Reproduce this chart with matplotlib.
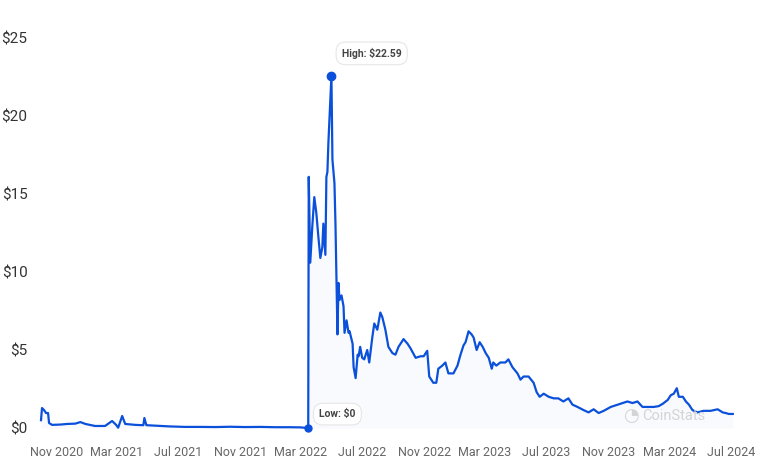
import matplotlib
matplotlib.use("Agg")
import matplotlib.pyplot as plt
import matplotlib.dates as mdates
import pandas as pd

plt.rcParams['font.family'] = ['Roboto', 'DejaVu Sans']

dates = [
    "2020-10-02", "2020-10-04", "2020-10-08", "2020-10-12", "2020-10-16", "2020-10-18",
    "2020-10-24", "2020-11-09", "2020-11-23", "2020-12-09", "2020-12-19", "2020-12-29",
    "2021-01-17", "2021-02-06", "2021-02-20", "2021-02-28", "2021-03-04", "2021-03-12",
    "2021-03-18", "2021-04-07", "2021-04-23", "2021-04-25", "2021-04-29", "2021-05-26",
    "2021-06-15", "2021-07-15", "2021-08-14", "2021-09-13", "2021-10-12", "2021-11-11",
    "2021-12-11", "2022-01-10", "2022-02-08", "2022-02-28", "2022-03-16", "2022-03-17",
    "2022-03-20", "2022-03-24", "2022-03-28", "2022-04-01", "2022-04-05", "2022-04-09",
    "2022-04-13", "2022-04-15", "2022-04-19", "2022-04-21", "2022-04-23", "2022-04-25",
    "2022-05-01", "2022-05-03", "2022-05-07", "2022-05-09", "2022-05-11", "2022-05-13",
    "2022-05-15", "2022-05-17", "2022-05-21", "2022-05-25", "2022-05-27", "2022-05-31",
    "2022-06-04", "2022-06-06", "2022-06-12", "2022-06-14", "2022-06-18", "2022-06-22",
    "2022-06-24", "2022-06-27", "2022-07-01", "2022-07-05", "2022-07-11", "2022-07-15",
    "2022-07-21", "2022-07-25", "2022-07-31", "2022-08-06", "2022-08-10", "2022-08-16",
    "2022-08-22", "2022-08-30", "2022-09-05", "2022-09-11", "2022-09-21", "2022-09-29",
    "2022-10-05", "2022-10-15", "2022-10-25", "2022-10-31", "2022-11-07", "2022-11-11",
    "2022-11-19", "2022-11-25", "2022-11-29", "2022-12-07", "2022-12-13", "2022-12-19",
    "2022-12-29", "2023-01-06", "2023-01-12", "2023-01-18", "2023-01-22", "2023-01-28",
    "2023-02-03", "2023-02-07", "2023-02-13", "2023-02-19", "2023-02-25", "2023-03-03",
    "2023-03-09", "2023-03-15", "2023-03-18", "2023-03-24", "2023-04-01", "2023-04-11",
    "2023-04-17", "2023-04-25", "2023-05-05", "2023-05-11", "2023-05-17", "2023-05-27",
    "2023-06-06", "2023-06-12", "2023-06-18", "2023-06-26", "2023-07-06", "2023-07-16",
    "2023-07-25", "2023-08-04", "2023-08-14", "2023-08-22", "2023-09-01", "2023-09-13",
    "2023-09-23", "2023-10-03", "2023-10-13", "2023-10-23", "2023-11-06", "2023-11-20",
    "2023-11-30", "2023-12-09", "2023-12-19", "2023-12-29", "2024-01-08", "2024-01-18",
    "2024-01-30", "2024-02-09", "2024-02-17", "2024-02-27", "2024-03-04", "2024-03-10",
    "2024-03-16", "2024-03-20", "2024-03-28", "2024-04-03", "2024-04-09", "2024-04-16",
    "2024-04-26", "2024-05-08", "2024-05-22", "2024-06-05", "2024-06-15", "2024-06-21",
    "2024-06-27", "2024-07-05",
]
prices = [
    0.50, 1.28, 1.15, 0.96, 0.96, 0.32,
    0.20, 0.22, 0.26, 0.28, 0.38, 0.26,
    0.13, 0.13, 0.45, 0.20, 0.02, 0.77,
    0.26, 0.20, 0.18, 0.64, 0.18, 0.13,
    0.10, 0.07, 0.07, 0.06, 0.08, 0.06,
    0.07, 0.05, 0.05, 0.04, 0.00, 16.1,
    10.6, 12.9, 14.8, 13.8, 12.3, 10.9,
    11.6, 13.1, 11.1, 16.1, 16.4, 18.3,
    22.59, 17.2, 15.7, 13.1, 9.7, 6.0,
    9.3, 8.2, 8.5, 7.8, 6.1, 6.9,
    6.1, 6.2, 5.4, 3.9, 3.2, 4.7,
    4.6, 5.2, 4.5, 4.4, 5.0, 4.2,
    5.8, 6.7, 6.3, 7.4, 7.1, 6.3,
    5.2, 4.8, 4.7, 5.2, 5.7, 5.4,
    5.1, 4.5, 4.6, 4.6, 4.95, 3.3,
    2.9, 2.9, 3.8, 4.0, 4.2, 3.5,
    3.5, 4.0, 4.7, 5.3, 5.5, 6.2,
    6.0, 5.8, 5.0, 5.5, 5.2, 4.8,
    4.5, 3.8, 4.2, 4.0, 4.2, 4.2,
    4.4, 3.9, 3.5, 3.1, 3.3, 3.3,
    2.9, 2.3, 2.0, 2.2, 2.0, 1.9,
    1.9, 1.7, 1.9, 1.5, 1.35, 1.15,
    1.0, 1.2, 0.96, 1.1, 1.35, 1.5,
    1.6, 1.7, 1.6, 1.7, 1.35, 1.35,
    1.35, 1.4, 1.55, 1.8, 2.1, 2.2,
    2.55, 2.0, 2.0, 1.7, 1.5, 1.15,
    1.0, 1.1, 1.1, 1.2, 1.0, 0.96,
    0.9, 0.9,
]
yticks = [0, 5, 10, 15, 20, 25]

x = pd.to_datetime(dates)
color = "#0b50da"

fig = plt.figure(figsize=(7.64, 4.72), dpi=100)
ax = fig.add_axes([40 / 764, 44 / 472, 720 / 764, 390 / 472])

ax.plot(x, prices, color=color, linewidth=1.6, solid_joinstyle="round", clip_on=False, zorder=3)
ax.fill_between(x, prices, 0, color=color, alpha=0.025, linewidth=0)

hi = prices.index(max(prices))
lo = prices.index(min(prices[20:]), 20)
ax.plot(x[hi], prices[hi], "o", color=color, markersize=6, clip_on=False, zorder=4)
ax.plot(x[lo], prices[lo], "o", color=color, markersize=5, clip_on=False, zorder=4)

box = dict(boxstyle="round,pad=0.55,rounding_size=0.9", fc="white", ec="#e6e6e6", lw=0.8)
ax.annotate(f"High: ${prices[hi]:.2f}", (x[hi], prices[hi]), xytext=(29, 16),
            textcoords="offset points", ha="center", va="center", fontsize=7.5,
            fontweight="bold", color="#444444", bbox=box, zorder=5)
ax.annotate(f"Low: ${prices[lo]:.0f}", (x[lo], prices[lo]), xytext=(21, 10),
            textcoords="offset points", ha="center", va="center", fontsize=7.5,
            fontweight="bold", color="#444444", bbox=box, zorder=5)

ax.set_ylim(0, 25)
ax.set_yticks(yticks)
ax.set_yticklabels([f"${v}" for v in yticks])
ax.set_xlim(pd.Timestamp("2020-09-30"), pd.Timestamp("2024-08-28"))
ax.xaxis.set_major_locator(mdates.MonthLocator(bymonth=[3, 7, 11]))
ax.xaxis.set_major_formatter(mdates.DateFormatter("%b %Y"))

for s in ax.spines.values():
    s.set_visible(False)
ax.tick_params(axis="y", length=0, pad=9, labelsize=11, labelcolor="#333333")
ax.tick_params(axis="x", length=0, pad=13, labelsize=9, labelcolor="#666666")

# watermark
fig.text(631 / 764, 1 - 416 / 472, "\u25d4", fontsize=13, color="#d4d4d4", ha="center", va="center")
fig.text(642 / 764, 1 - 416 / 472, "CoinStats", fontsize=10.5, color="#d4d4d4", ha="left", va="center")

fig.savefig("out.png", dpi=100)
